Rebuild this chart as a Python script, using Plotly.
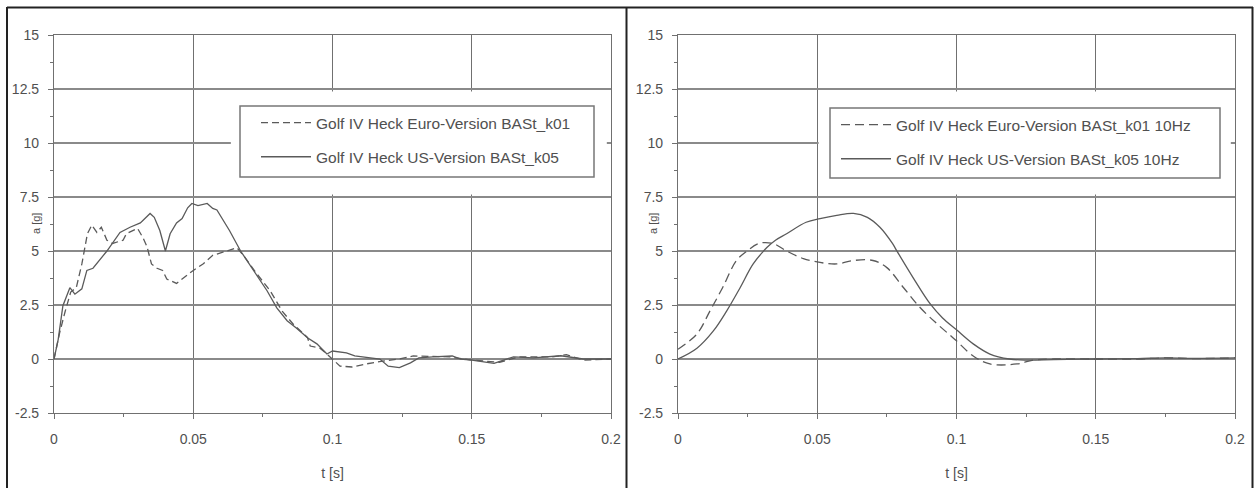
import plotly.graph_objects as go

# ---------------- data ----------------
x_ticks = [0, 0.05, 0.1, 0.15, 0.2]
x_tick_labels = ["0", "0.05", "0.1", "0.15", "0.2"]
y_ticks = [-2.5, 0, 2.5, 5, 7.5, 10, 12.5, 15]
y_tick_labels = ["-2.5", "0", "2.5", "5", "7.5", "10", "12.5", "15"]

name_eu = "Golf IV Heck Euro-Version BASt_k01"
name_us = "Golf IV Heck US-Version BASt_k05"
name_eu10 = "Golf IV Heck Euro-Version BASt_k01 10Hz"
name_us10 = "Golf IV Heck US-Version BASt_k05 10Hz"

# left: raw signals
us_t = [0, 0.0015, 0.0032, 0.0045, 0.0057, 0.0075, 0.010, 0.0118, 0.014, 0.019,
        0.0237, 0.0273, 0.031, 0.0345, 0.036, 0.038, 0.040, 0.0417, 0.044, 0.046,
        0.048, 0.0495, 0.0517, 0.055, 0.057, 0.0585, 0.063, 0.067, 0.0715, 0.0765,
        0.080, 0.0837, 0.087, 0.091, 0.0944, 0.098, 0.100, 0.105, 0.108, 0.113,
        0.117, 0.120, 0.124, 0.128, 0.131, 0.136, 0.140, 0.143, 0.146, 0.150,
        0.158, 0.165, 0.172, 0.182, 0.190, 0.200]
us_a = [0, 0.9, 2.47, 2.9, 3.3, 3.0, 3.25, 4.1, 4.2, 5.0,
        5.86, 6.1, 6.3, 6.74, 6.56, 5.95, 5.0, 5.8, 6.3, 6.5,
        7.0, 7.2, 7.1, 7.2, 6.97, 6.9, 5.95, 5.0, 4.1, 3.16,
        2.37, 1.77, 1.44, 0.98, 0.7, 0.23, 0.37, 0.28, 0.14, 0.05,
        0.0, -0.33, -0.4, -0.18, 0.05, 0.1, 0.14, 0.14, 0.0, -0.05,
        -0.2, 0.1, 0.05, 0.15, 0.0, 0.0]

eu_t = [0, 0.002, 0.004, 0.006, 0.008, 0.010, 0.012, 0.0136, 0.0154, 0.017,
        0.019, 0.021, 0.0248, 0.026, 0.030, 0.032, 0.0334, 0.035, 0.037, 0.039,
        0.0405, 0.044, 0.046, 0.050, 0.0535, 0.057, 0.062, 0.0657, 0.068, 0.0725,
        0.0776, 0.082, 0.086, 0.091, 0.092, 0.0955, 0.098, 0.1027, 0.107, 0.112,
        0.118, 0.124, 0.129, 0.136, 0.142, 0.150, 0.160, 0.167, 0.179, 0.184,
        0.190, 0.200]
eu_a = [0, 1.2, 2.2, 3.1, 3.3, 4.4, 5.8, 6.2, 5.86, 6.1,
        5.5, 5.35, 5.5, 5.8, 6.05, 5.6, 5.2, 4.4, 4.2, 4.1,
        3.7, 3.5, 3.7, 4.1, 4.4, 4.8, 5.0, 5.15, 4.8, 4.0,
        3.16, 2.2, 1.6, 1.0, 0.6, 0.5, 0.23, -0.33, -0.37, -0.23,
        -0.1, 0.0, 0.14, 0.1, 0.1, -0.05, -0.15, 0.1, 0.1, 0.2,
        -0.05, 0.0]

# right: 10 Hz filtered signals
us10_t = [0, 0.0068, 0.0127, 0.0175, 0.0223, 0.027, 0.032, 0.035, 0.039, 0.046,
          0.051, 0.057, 0.063, 0.068, 0.0725, 0.077, 0.0786, 0.0844, 0.0905, 0.095,
          0.100, 0.106, 0.112, 0.119, 0.125, 0.135, 0.150, 0.165, 0.175, 0.185, 0.200]
us10_a = [0, 0.5, 1.3, 2.23, 3.3, 4.4, 5.17, 5.5, 5.8, 6.33,
          6.5, 6.65, 6.74, 6.56, 6.1, 5.35, 5.0, 3.77, 2.56, 1.9,
          1.35, 0.7, 0.23, 0.0, -0.05, -0.03, 0.0, 0.02, 0.05, 0.03, 0.05]

eu10_t = [0, 0.0068, 0.0115, 0.016, 0.021, 0.0248, 0.029, 0.034, 0.039, 0.045,
          0.051, 0.057, 0.063, 0.070, 0.075, 0.081, 0.087, 0.093, 0.0977, 0.100,
          0.106, 0.112, 0.1217, 0.1275, 0.135, 0.150, 0.165, 0.175, 0.185, 0.200]
eu10_a = [0.45, 1.16, 2.23, 3.3, 4.56, 5.0, 5.35, 5.35, 5.0, 4.65,
          4.47, 4.4, 4.56, 4.56, 4.23, 3.3, 2.37, 1.63, 1.1, 0.84,
          0.14, -0.23, -0.23, -0.05, 0.0, 0.0, 0.0, 0.05, 0.02, 0.05]

# ---------------- styling ----------------
W, H = 1254, 488
FONT = "Liberation Sans, Arial, sans-serif"
LINE_COL = "#5a5a5a"
TXT_COL = "#505050"

def px_x(p):
    return p / W

def px_y(p):
    return (H - p) / H

fig = go.Figure()

fig.add_trace(go.Scatter(x=eu_t, y=eu_a, mode="lines", name=name_eu,
                         line=dict(color=LINE_COL, width=1.3, dash="7px,4px"),
                         xaxis="x", yaxis="y", legend="legend", legendgroup="a"))
fig.add_trace(go.Scatter(x=us_t, y=us_a, mode="lines", name=name_us,
                         line=dict(color=LINE_COL, width=1.3),
                         xaxis="x", yaxis="y", legend="legend", legendgroup="b"))
fig.add_trace(go.Scatter(x=eu10_t, y=eu10_a, mode="lines", name=name_eu10,
                         line=dict(color=LINE_COL, width=1.3, dash="9px,5px", shape="spline"),
                         xaxis="x2", yaxis="y2", legend="legend2", legendgroup="c"))
fig.add_trace(go.Scatter(x=us10_t, y=us10_a, mode="lines", name=name_us10,
                         line=dict(color=LINE_COL, width=1.3, shape="spline"),
                         xaxis="x2", yaxis="y2", legend="legend2", legendgroup="d"))

ydom = [px_y(413), px_y(35)]

def xaxis(dom, anchor):
    return dict(domain=dom, anchor=anchor, range=[0, 0.2], tickmode="array",
                tickvals=x_ticks, ticktext=x_tick_labels, automargin=False,
                showgrid=True, gridcolor="#707070", gridwidth=1,
                showline=True, linecolor="#707070", linewidth=1.2, mirror=True,
                zeroline=False, ticks="outside", ticklen=5, tickcolor="#707070",
                ticklabelstandoff=8,
                minor=dict(tickvals=[0.025, 0.075, 0.125, 0.175], ticks="outside",
                           ticklen=3, tickcolor="#707070", showgrid=False),
                tickfont=dict(family=FONT, size=14, color=TXT_COL),
                title=dict(text="t [s]", font=dict(family=FONT, size=14, color=TXT_COL),
                           standoff=22))

def yaxis(anchor):
    return dict(domain=ydom, anchor=anchor, range=[-2.5, 15], tickmode="array",
                tickvals=y_ticks, ticktext=y_tick_labels, automargin=False,
                showgrid=True, gridcolor="#8a8a8a", gridwidth=1.8,
                showline=True, linecolor="#707070", linewidth=1.2, mirror=True,
                zeroline=False, ticks="outside", ticklen=5, tickcolor="#707070",
                ticklabelstandoff=6,
                minor=dict(tickvals=[-1.25, 1.25, 3.75, 6.25, 8.75, 11.25, 13.75],
                           ticks="outside", ticklen=3, tickcolor="#707070", showgrid=False),
                tickfont=dict(family=FONT, size=14, color=TXT_COL))

legend_common = dict(xanchor="left", yanchor="top", bgcolor="rgba(0,0,0,0)",
                     borderwidth=0,
                     font=dict(family=FONT, size=15.5, color=TXT_COL),
                     itemwidth=50, traceorder="grouped", tracegroupgap=11)

fig.update_layout(
    template="none",
    width=W, height=H,
    margin=dict(l=0, r=0, t=0, b=0, pad=0, autoexpand=False),
    paper_bgcolor="white", plot_bgcolor="white",
    xaxis=xaxis([px_x(54), px_x(611)], "y"),
    yaxis=yaxis("x"),
    xaxis2=xaxis([px_x(678), px_x(1235)], "y2"),
    yaxis2=yaxis("x2"),
    legend=dict(x=px_x(256), y=px_y(106), **legend_common),
    legend2=dict(x=px_x(836), y=px_y(108), **legend_common),
    showlegend=True,
)

# white area behind each legend (hides grid lines as in the reference)
fig.add_shape(type="rect", xref="x", yref="y", x0=0.0635, x1=0.1985, y0=7.62, y1=12.38,
              fillcolor="white", line=dict(width=0), layer="above")
fig.add_shape(type="rect", xref="x2", yref="y2", x0=0.0505, x1=0.1985, y0=7.62, y1=12.38,
              fillcolor="white", line=dict(width=0), layer="above")
# legend frames
box_line = dict(color="#777777", width=1.5)
fig.add_shape(type="rect", xref="paper", yref="paper", x0=px_x(240), x1=px_x(594),
              y0=px_y(177), y1=px_y(106), line=box_line, fillcolor="white", layer="above")
fig.add_shape(type="rect", xref="paper", yref="paper", x0=px_x(830), x1=px_x(1220),
              y0=px_y(178), y1=px_y(108), line=box_line, fillcolor="white", layer="above")

# y-axis titles
for xp in (px_x(28), px_x(653)):
    fig.add_annotation(text="a [g]", xref="paper", yref="paper", x=xp, y=px_y(224),
                       showarrow=False, textangle=-90,
                       font=dict(family=FONT, size=11, color=TXT_COL))

# outer frames
frame = dict(color="#222222", width=2)
fig.add_shape(type="line", xref="paper", yref="paper", x0=px_x(7), x1=px_x(1253),
              y0=px_y(7.5), y1=px_y(7.5), line=frame)
for xpx in (7, 626.5, 1252.5):
    fig.add_shape(type="line", xref="paper", yref="paper", x0=px_x(xpx), x1=px_x(xpx),
                  y0=0, y1=px_y(7), line=frame)

fig.write_html("out.html", config={"displayModeBar": False},
               post_script="document.body.style.margin='0';")
